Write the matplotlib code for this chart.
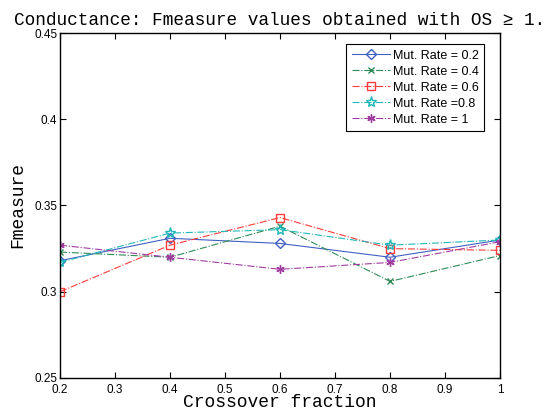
import matplotlib
matplotlib.use('Agg')
import matplotlib.pyplot as plt

crossover = [0.2, 0.4, 0.6, 0.8, 1.0]
mut_02 = [0.318, 0.331, 0.328, 0.320, 0.330]
mut_04 = [0.323, 0.320, 0.338, 0.306, 0.321]
mut_06 = [0.300, 0.327, 0.343, 0.325, 0.324]
mut_08 = [0.317, 0.334, 0.336, 0.327, 0.330]
mut_1 = [0.327, 0.320, 0.313, 0.317, 0.329]

labels = ['Mut. Rate = 0.2', 'Mut. Rate = 0.4', 'Mut. Rate = 0.6',
          'Mut. Rate =0.8', 'Mut. Rate = 1']

mono = 'Liberation Mono'
sans = 'Liberation Sans'

fig = plt.figure(figsize=(5.52, 4.19), dpi=100)
ax = fig.add_axes([0.1087, 0.0979, 0.7971, 0.8233])

ax.plot(crossover, mut_02, color='#4060c0', linestyle='-', marker='D',
        markersize=5, markerfacecolor='none', linewidth=0.8, label=labels[0])
ax.plot(crossover, mut_04, color='#2e8b57', linestyle='-.', marker='x',
        markersize=5, linewidth=0.8, label=labels[1])
ax.plot(crossover, mut_06, color='#ff3b3b', linestyle='-.', marker='s',
        markersize=6, markerfacecolor='none', linewidth=0.8, label=labels[2])
ax.plot(crossover, mut_08, color='#20b8b8', linestyle='-.', marker='*',
        markersize=8, markerfacecolor='none', linewidth=0.8, label=labels[3])
ax.plot(crossover, mut_1, color='#a03ca0', linestyle='-.', marker=(6, 2, 0),
        markersize=6, linewidth=0.8, label=labels[4])

ax.set_xlim(0.2, 1.0)
ax.set_ylim(0.25, 0.45)
ax.set_xticks([0.2, 0.3, 0.4, 0.5, 0.6, 0.7, 0.8, 0.9, 1.0])
ax.set_xticklabels(['0.2', '0.3', '0.4', '0.5', '0.6', '0.7', '0.8', '0.9', '1'])
ax.set_yticks([0.25, 0.3, 0.35, 0.4, 0.45])
ax.set_yticklabels(['0.25', '0.3', '0.35', '0.4', '0.45'])
ax.tick_params(direction='in', top=True, right=True, length=4, width=0.8,
               labelsize=8.5)
ax.tick_params(axis='x', pad=4)
ax.tick_params(axis='y', pad=2)
for lab in ax.get_xticklabels() + ax.get_yticklabels():
    lab.set_family(sans)
for s in ax.spines.values():
    s.set_linewidth(1.0)

ax.set_title('Conductance: Fmeasure values obtained with OS \u2265 1.',
             family=[mono, 'DejaVu Sans Mono'], fontsize=12.8, pad=6)
ax.set_xlabel('Crossover fraction', family=mono, fontsize=13, labelpad=-1)
ax.set_ylabel('Fmeasure', family=mono, fontsize=13, labelpad=6)

leg = ax.legend(loc='upper right', bbox_to_anchor=(0.964, 0.968),
                borderaxespad=0, fancybox=False, edgecolor='black',
                framealpha=1, prop={'family': sans, 'size': 9},
                handlelength=3.0, labelspacing=0.32, borderpad=0.45,
                handletextpad=0.25)
leg.get_frame().set_linewidth(0.8)

fig.savefig('out.png', dpi=100)
